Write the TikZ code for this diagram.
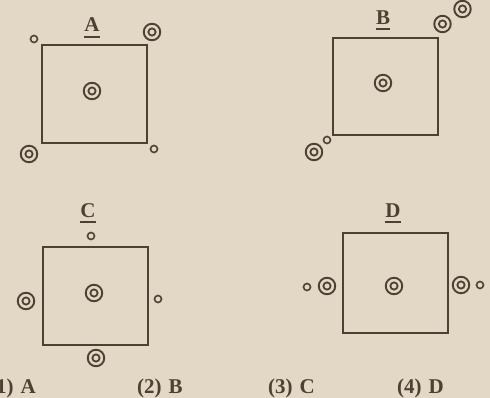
\documentclass[tikz,border=0pt]{standalone}
\usepackage{fontspec}
\setmainfont{Liberation Serif}
\begin{document}
\begin{tikzpicture}[x=1pt,y=-1pt,
  ink/.style={draw=inkc,line width=2pt},
  sq/.style={ink,rectangle,inner sep=0pt,minimum width=105pt},
  dbl/.style={draw=inkc,line width=1.9pt,circle,inner sep=0pt,minimum size=16.5pt,
    path picture={\draw[inkc,line width=1.8pt] (path picture bounding box.center) circle (3.6pt);}},
  sml/.style={draw=inkc,line width=1.6pt,circle,inner sep=0pt,minimum size=7pt},
  ttl/.style={inner sep=0pt,anchor=base,text=inkc,font=\fontsize{21}{21}\selectfont\bfseries},
  ans/.style={inner sep=0pt,anchor=base west,text=inkc,font=\fontsize{21}{21}\selectfont\bfseries},
  uline/.style={draw=inkc,line width=1.6pt}]
\definecolor{inkc}{HTML}{4E4034}
\definecolor{paper}{HTML}{E2D8C5}
\useasboundingbox (0,0) rectangle (490,398);
\clip (0,0) rectangle (490,398);
\fill[paper] (0,0) rectangle (490,398);

% ---- A ----
\node[sq,minimum height=98pt] (sqA) at (94.5,94) {};
\node[ttl] (tA) at (92,32) {A};
\draw[uline] ([yshift=-5pt]tA.base west) -- ([yshift=-5pt]tA.base east);
\node[sml] (a1) at (34,39) {};
\node[dbl] (a2) at (152,32) {};
\node[dbl] (a3) at (92,91) {};
\node[dbl] (a4) at (29,154) {};
\node[sml] (a5) at (154,149) {};

% ---- B ----
\node[sq,minimum height=97pt] (sqB) at (385.5,86.5) {};
\node[ttl] (tB) at (383,25) {B};
\draw[uline] ([yshift=-4pt]tB.base west) -- ([yshift=-4pt]tB.base east);
\node[dbl] (b1) at (383,83) {};
\node[dbl] (b2) at (442.5,24) {};
\node[dbl] (b3) at (462.5,9) {};
\node[sml] (b4) at (327,140) {};
\node[dbl] (b5) at (314,152) {};

% ---- C ----
\node[sq,minimum height=98pt] (sqC) at (95.5,296) {};
\node[ttl] (tC) at (88,218) {C};
\draw[uline] ([yshift=-4pt]tC.base west) -- ([yshift=-4pt]tC.base east);
\node[sml] (c1) at (91,236) {};
\node[dbl] (c2) at (26,301) {};
\node[dbl] (c3) at (94,293) {};
\node[sml] (c4) at (158,299) {};
\node[dbl] (c5) at (96,358) {};

% ---- D ----
\node[sq,minimum height=100pt] (sqD) at (395.5,283) {};
\node[ttl] (tD) at (393,218) {D};
\draw[uline] ([yshift=-4pt]tD.base west) -- ([yshift=-4pt]tD.base east);
\node[sml] (d1) at (307,287) {};
\node[dbl] (d2) at (327,286) {};
\node[dbl] (d3) at (394,286) {};
\node[dbl] (d4) at (461,285) {};
\node[sml] (d5) at (480,285) {};

% ---- answers ----
\node[ans] (o1) at (-11,393) {(1)\hspace{7pt}A};
\node[ans] (o2) at (137,393) {(2)\hspace{7pt}B};
\node[ans] (o3) at (268,393) {(3)\hspace{7pt}C};
\node[ans] (o4) at (397,393) {(4)\hspace{7pt}D};
\end{tikzpicture}
\end{document}
